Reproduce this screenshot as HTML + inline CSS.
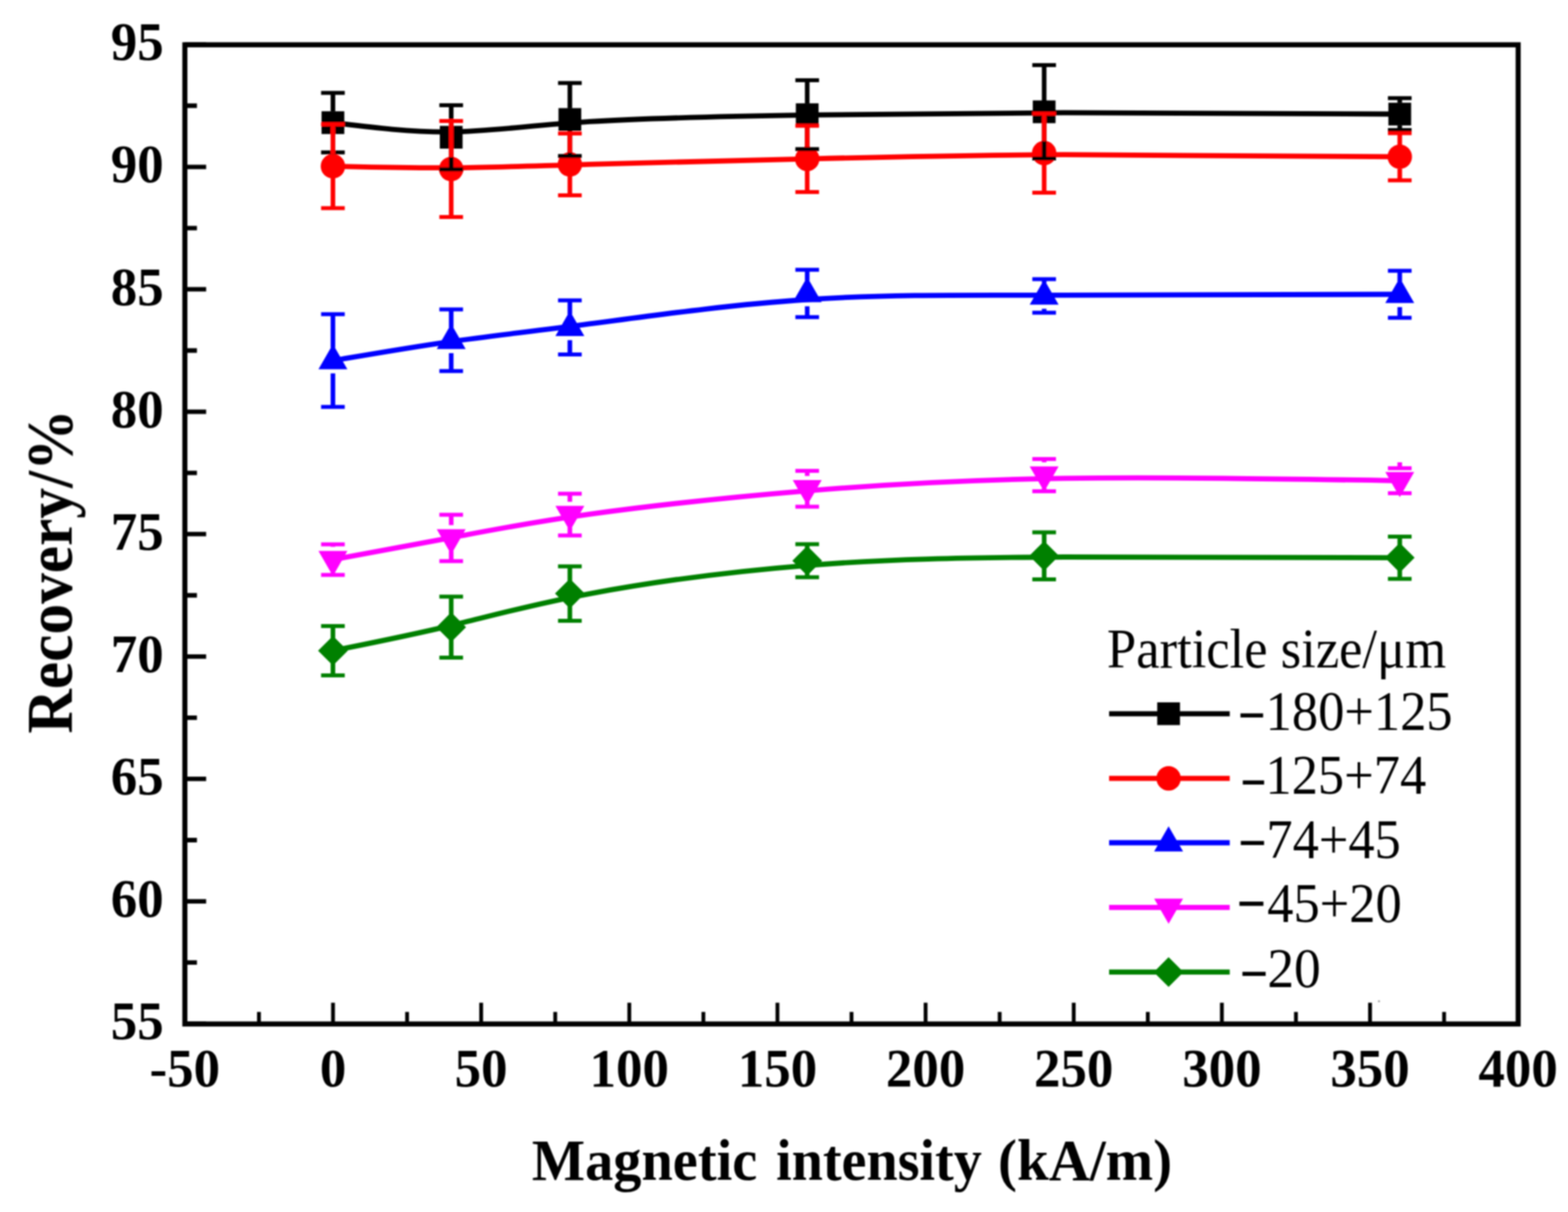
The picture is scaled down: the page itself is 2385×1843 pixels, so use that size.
<!DOCTYPE html>
<html lang="en">
<head>
<meta charset="utf-8">
<title>Recovery vs magnetic intensity</title>
<style>
html,body{margin:0;padding:0;background:#ffffff;}
body{width:2385px;height:1843px;overflow:hidden;}
svg{display:block;}
text{font-family:"Liberation Serif","Times New Roman",serif;fill:#000;}
.b{font-weight:bold;}
</style>
</head>
<body>
<svg width="2385" height="1843" viewBox="0 0 2385 1843">
<defs><filter id="soft" x="0" y="0" width="2385" height="1843" filterUnits="userSpaceOnUse"><feGaussianBlur stdDeviation="1.1"/></filter></defs>
<rect x="0" y="0" width="2385" height="1843" fill="#ffffff"/>
<g filter="url(#soft)">

<path d="M506.4,186.5C566.37,193.9 626.33,201.3 686.4,200.5C746.47,199.7 806.63,190.7 896.88,184.98C987.13,179.27 1107.47,176.83 1227.7,174.88C1347.93,172.93 1468.07,171.47 1618.28,171.32C1768.5,171.17 1948.8,172.33 2129.1,173.5" fill="none" stroke="#000000" stroke-width="7.8" stroke-linejoin="round"/>
<rect x="489.1" y="169.2" width="34.6" height="34.6" fill="#000000"/>
<rect x="669" y="191.4" width="34.6" height="34.6" fill="#000000"/>
<rect x="849.5" y="164.4" width="34.6" height="34.6" fill="#000000"/>
<rect x="1210.5" y="157.1" width="34.6" height="34.6" fill="#000000"/>
<rect x="1570.9" y="152.7" width="34.6" height="34.6" fill="#000000"/>
<rect x="2111.8" y="156.2" width="34.6" height="34.6" fill="#000000"/>
<path d="M506.4,252.8C566.37,254.2 626.33,255.6 686.4,255.13C746.47,254.67 806.63,252.33 896.88,249.78C987.13,247.23 1107.47,244.47 1227.7,241.6C1347.93,238.73 1468.07,235.77 1618.28,235.22C1768.5,234.67 1948.8,236.53 2129.1,238.4" fill="none" stroke="#ff0000" stroke-width="7.8" stroke-linejoin="round"/>
<circle cx="506.4" cy="252.8" r="18.6" fill="#ff0000"/>
<circle cx="686.3" cy="257" r="18.6" fill="#ff0000"/>
<circle cx="866.8" cy="250" r="18.6" fill="#ff0000"/>
<circle cx="1227.8" cy="241.7" r="18.6" fill="#ff0000"/>
<circle cx="1588.2" cy="232.8" r="18.6" fill="#ff0000"/>
<circle cx="2129.1" cy="238.4" r="18.6" fill="#ff0000"/>
<path d="M506.4,548.3C566.37,538 626.33,527.7 686.4,519.28C746.47,510.87 806.63,504.33 896.88,492.48C987.13,480.63 1107.47,463.47 1227.7,455.5C1347.93,447.53 1468.07,448.77 1618.28,448.97C1768.5,449.17 1948.8,448.33 2129.1,447.5" fill="none" stroke="#0000ff" stroke-width="7.8" stroke-linejoin="round"/>
<polygon points="506.4,523.3 528.4,561.6 484.4,561.6" fill="#0000ff"/>
<polygon points="686.3,492.4 708.3,530.7 664.3,530.7" fill="#0000ff"/>
<polygon points="866.8,472.8 888.8,511.1 844.8,511.1" fill="#0000ff"/>
<polygon points="1227.8,421.3 1249.8,459.6 1205.8,459.6" fill="#0000ff"/>
<polygon points="1588.2,425 1610.2,463.3 1566.2,463.3" fill="#0000ff"/>
<polygon points="2129.1,422.5 2151.1,460.8 2107.1,460.8" fill="#0000ff"/>
<path d="M506.4,851C566.37,840 626.33,829 686.4,817.58C746.47,806.17 806.63,794.33 896.88,781.88C987.13,769.43 1107.47,756.37 1227.7,746.37C1347.93,736.37 1468.07,729.43 1618.28,727.38C1768.5,725.33 1948.8,728.17 2129.1,731" fill="none" stroke="#ff00ff" stroke-width="7.8" stroke-linejoin="round"/>
<polygon points="506.4,876 528.4,837.7 484.4,837.7" fill="#ff00ff"/>
<polygon points="686.3,843 708.3,804.7 664.3,804.7" fill="#ff00ff"/>
<polygon points="866.8,807.5 888.8,769.2 844.8,769.2" fill="#ff00ff"/>
<polygon points="1227.8,768.3 1249.8,730 1205.8,730" fill="#ff00ff"/>
<polygon points="1588.2,747.5 1610.2,709.2 1566.2,709.2" fill="#ff00ff"/>
<polygon points="2129.1,756 2151.1,717.7 2107.1,717.7" fill="#ff00ff"/>
<path d="M506.4,989.5C566.37,977.57 626.33,965.63 686.4,951.15C746.47,936.67 806.63,919.63 896.88,902.8C987.13,885.97 1107.47,869.33 1227.7,859.78C1347.93,850.23 1468.07,847.77 1618.28,847C1768.5,846.23 1948.8,847.17 2129.1,848.1" fill="none" stroke="#008000" stroke-width="7.8" stroke-linejoin="round"/>
<polygon points="506.4,966.9 529,989.5 506.4,1012.1 483.8,989.5" fill="#008000"/>
<polygon points="686.3,931.1 708.9,953.7 686.3,976.3 663.7,953.7" fill="#008000"/>
<polygon points="866.8,880 889.4,902.6 866.8,925.2 844.2,902.6" fill="#008000"/>
<polygon points="1227.8,830.1 1250.4,852.7 1227.8,875.3 1205.2,852.7" fill="#008000"/>
<polygon points="1588.2,822.7 1610.8,845.3 1588.2,867.9 1565.6,845.3" fill="#008000"/>
<polygon points="2129.1,825.5 2151.7,848.1 2129.1,870.7 2106.5,848.1" fill="#008000"/>
<g fill="none" stroke="#000000"><path d="M506.4,141.2V169.5M506.4,203.5V231.8M686.3,160V191.7M686.3,225.7V257.4M866.8,126.2V164.7M866.8,198.7V237.2M1227.8,122V157.4M1227.8,191.4V226.8M1588.2,99.1V153M1588.2,187V240.9M2129.1,149.3V156.5M2129.1,190.5V197.7" stroke-width="7.0"/><path d="M488.4,141.2h36M488.4,231.8h36M668.3,160h36M668.3,257.4h36M848.8,126.2h36M848.8,237.2h36M1209.8,122h36M1209.8,226.8h36M1570.2,99.1h36M1570.2,240.9h36M2111.1,149.3h36M2111.1,197.7h36" stroke-width="6.0"/></g>
<g fill="none" stroke="#ff0000"><path d="M506.4,189V234.8M506.4,270.8V316.6M686.3,184.1V239M686.3,275V329.9M866.8,203.1V232M866.8,268V296.9M1227.8,191.3V223.7M1227.8,259.7V292.1M1588.2,172.7V214.8M1588.2,250.8V292.9M2129.1,202.5V220.4M2129.1,256.4V274.3" stroke-width="7.0"/><path d="M488.4,189h36M488.4,316.6h36M668.3,184.1h36M668.3,329.9h36M848.8,203.1h36M848.8,296.9h36M1209.8,191.3h36M1209.8,292.1h36M1570.2,172.7h36M1570.2,292.9h36M2111.1,202.5h36M2111.1,274.3h36" stroke-width="6.0"/></g>
<g fill="none" stroke="#0000ff"><path d="M506.4,477.8V528.8M506.4,567.8V618.8M686.3,470.5V497.9M686.3,536.9V564.3M866.8,456.7V478.3M866.8,517.3V538.9M1227.8,410.3V426.8M1227.8,465.8V482.3M1588.2,424.4V430.5M1588.2,469.5V475.6M2129.1,411.7V428M2129.1,467V483.3" stroke-width="7.0"/><path d="M488.4,477.8h36M488.4,618.8h36M668.3,470.5h36M668.3,564.3h36M848.8,456.7h36M848.8,538.9h36M1209.8,410.3h36M1209.8,482.3h36M1570.2,424.4h36M1570.2,475.6h36M2111.1,411.7h36M2111.1,483.3h36" stroke-width="6.0"/></g>
<g fill="none" stroke="#ff00ff"><path d="M506.4,827.8V831.5M506.4,870.5V874.2M686.3,782.7V798.5M686.3,837.5V853.3M866.8,750.7V763M866.8,802V814.3M1227.8,716V723.8M1227.8,762.8V770.6M1588.2,698V703M1588.2,742V747M2129.1,703V712" stroke-width="7.0"/><path d="M488.4,827.8h36M488.4,874.2h36M668.3,782.7h36M668.3,853.3h36M848.8,750.7h36M848.8,814.3h36M1209.8,716h36M1209.8,770.6h36M1570.2,698h36M1570.2,747h36M2111.1,712h36M2111.1,750h36" stroke-width="6.0"/></g>
<g fill="none" stroke="#008000"><path d="M506.4,952V972.5M506.4,1006.5V1027M686.3,907.3V936.7M686.3,970.7V1000.1M866.8,861.3V885.6M866.8,919.6V943.9M1227.8,827.6V835.7M1227.8,869.7V877.8M1588.2,809.6V828.3M1588.2,862.3V881M2129.1,815.9V831.1M2129.1,865.1V880.3" stroke-width="7.0"/><path d="M488.4,952h36M488.4,1027h36M668.3,907.3h36M668.3,1000.1h36M848.8,861.3h36M848.8,943.9h36M1209.8,827.6h36M1209.8,877.8h36M1570.2,809.6h36M1570.2,881h36M2111.1,815.9h36M2111.1,880.3h36" stroke-width="6.0"/></g>
<circle cx="2097.5" cy="1522.5" r="1.6" fill="#9a9a9a"/>
<rect x="281.2" y="68.1" width="2027.9999999999998" height="1489.0" fill="none" stroke="#000" stroke-width="7.7"/>
<path d="M281.2,1557.1v-32.35M393.87,1557.1v-18.35M506.53,1557.1v-32.35M619.2,1557.1v-18.35M731.87,1557.1v-32.35M844.53,1557.1v-18.35M957.2,1557.1v-32.35M1069.87,1557.1v-18.35M1182.53,1557.1v-32.35M1295.2,1557.1v-18.35M1407.87,1557.1v-32.35M1520.53,1557.1v-18.35M1633.2,1557.1v-32.35M1745.87,1557.1v-18.35M1858.53,1557.1v-32.35M1971.2,1557.1v-18.35M2083.87,1557.1v-32.35M2196.53,1557.1v-18.35M2309.2,1557.1v-32.35" stroke="#000" stroke-width="5.8" fill="none"/>
<path d="M281.2,1556.7h32.35M281.2,1463.64h18.35M281.2,1370.57h32.35M281.2,1277.51h18.35M281.2,1184.45h32.35M281.2,1091.39h18.35M281.2,998.32h32.35M281.2,905.26h18.35M281.2,812.2h32.35M281.2,719.14h18.35M281.2,626.07h32.35M281.2,533.01h18.35M281.2,439.95h32.35M281.2,346.89h18.35M281.2,253.82h32.35M281.2,160.76h18.35M281.2,67.7h32.35" stroke="#000" stroke-width="6.8" fill="none"/>
<text class="b" transform="translate(281.2,1651.5) scale(0.97,1)" font-size="83" text-anchor="middle">-50</text>
<text class="b" transform="translate(506.53,1651.5) scale(0.97,1)" font-size="83" text-anchor="middle">0</text>
<text class="b" transform="translate(731.87,1651.5) scale(0.97,1)" font-size="83" text-anchor="middle">50</text>
<text class="b" transform="translate(957.2,1651.5) scale(0.97,1)" font-size="83" text-anchor="middle">100</text>
<text class="b" transform="translate(1182.53,1651.5) scale(0.97,1)" font-size="83" text-anchor="middle">150</text>
<text class="b" transform="translate(1407.87,1651.5) scale(0.97,1)" font-size="83" text-anchor="middle">200</text>
<text class="b" transform="translate(1633.2,1651.5) scale(0.97,1)" font-size="83" text-anchor="middle">250</text>
<text class="b" transform="translate(1858.53,1651.5) scale(0.97,1)" font-size="83" text-anchor="middle">300</text>
<text class="b" transform="translate(2083.87,1651.5) scale(0.97,1)" font-size="83" text-anchor="middle">350</text>
<text class="b" transform="translate(2309.2,1651.5) scale(0.97,1)" font-size="83" text-anchor="middle">400</text>
<text class="b" transform="translate(249,1580.3) scale(0.97,1)" font-size="83" text-anchor="end">55</text>
<text class="b" transform="translate(249,1394.17) scale(0.97,1)" font-size="83" text-anchor="end">60</text>
<text class="b" transform="translate(249,1208.05) scale(0.97,1)" font-size="83" text-anchor="end">65</text>
<text class="b" transform="translate(249,1021.92) scale(0.97,1)" font-size="83" text-anchor="end">70</text>
<text class="b" transform="translate(249,835.8) scale(0.97,1)" font-size="83" text-anchor="end">75</text>
<text class="b" transform="translate(249,649.67) scale(0.97,1)" font-size="83" text-anchor="end">80</text>
<text class="b" transform="translate(249,463.55) scale(0.97,1)" font-size="83" text-anchor="end">85</text>
<text class="b" transform="translate(249,277.42) scale(0.97,1)" font-size="83" text-anchor="end">90</text>
<text class="b" transform="translate(249,91.3) scale(0.97,1)" font-size="83" text-anchor="end">95</text>
<text class="b" font-size="89" y="1793.8"><tspan x="809.07" y="1793.80" textLength="342.73" lengthAdjust="spacingAndGlyphs">Magnetic</tspan> <tspan x="1180.58" y="1793.80" textLength="312.73" lengthAdjust="spacingAndGlyphs">intensity</tspan> <tspan x="1518.11" y="1793.80" textLength="264.71" lengthAdjust="spacingAndGlyphs">(kA/m)</tspan></text>
<text class="b" transform="translate(109,1115.47) rotate(-90) scale(0.9345,1)" font-size="100">Recovery/%</text>
<text transform="translate(1683.82,1015.20) scale(0.9409,1)" font-size="85">Particle size/μm</text>
<path d="M1687,1085.3H1870.5" stroke="#000000" stroke-width="7.8" fill="none"/>
<rect x="1760.2" y="1068" width="34.6" height="34.6" fill="#000000"/>
<text font-size="84"><tspan x="1887.23" y="1109.40" class="b" font-size="92" textLength="33.54" lengthAdjust="spacingAndGlyphs">–</tspan><tspan x="1925.10" y="1109.80" textLength="284.41" lengthAdjust="spacingAndGlyphs">180+125</tspan></text>
<path d="M1687,1183.7H1870.5" stroke="#ff0000" stroke-width="7.8" fill="none"/>
<circle cx="1777.5" cy="1183.7" r="18.6" fill="#ff0000"/>
<text font-size="84"><tspan x="1890.69" y="1210.50" class="b" font-size="92" textLength="31.62" lengthAdjust="spacingAndGlyphs">–</tspan><tspan x="1924.80" y="1207.00" textLength="244.51" lengthAdjust="spacingAndGlyphs">125+74</tspan></text>
<path d="M1687,1281.5H1870.5" stroke="#0000ff" stroke-width="7.8" fill="none"/>
<polygon points="1777.5,1256.5 1799.5,1294.8 1755.5,1294.8" fill="#0000ff"/>
<text font-size="84"><tspan x="1887.75" y="1302.50" class="b" font-size="92" textLength="34.50" lengthAdjust="spacingAndGlyphs">–</tspan><tspan x="1926.31" y="1304.60" textLength="204.40" lengthAdjust="spacingAndGlyphs">74+45</tspan></text>
<path d="M1687,1379.8H1870.5" stroke="#ff00ff" stroke-width="7.8" fill="none"/>
<polygon points="1777.5,1404.8 1799.5,1366.5 1755.5,1366.5" fill="#ff00ff"/>
<text font-size="84"><tspan x="1881.03" y="1404.90" class="b" font-size="92" textLength="44.75" lengthAdjust="spacingAndGlyphs">−</tspan><tspan x="1927.50" y="1402.40" textLength="204.71" lengthAdjust="spacingAndGlyphs">45+20</tspan></text>
<path d="M1687,1478.2H1870.5" stroke="#008000" stroke-width="7.8" fill="none"/>
<polygon points="1777.5,1455.6 1800.1,1478.2 1777.5,1500.8 1754.9,1478.2" fill="#008000"/>
<text font-size="84"><tspan x="1890.35" y="1502.40" class="b" font-size="92" textLength="34.40" lengthAdjust="spacingAndGlyphs">–</tspan><tspan x="1927.63" y="1500.80" textLength="81.27" lengthAdjust="spacingAndGlyphs">20</tspan></text>
</g>
</svg>
</body>
</html>
